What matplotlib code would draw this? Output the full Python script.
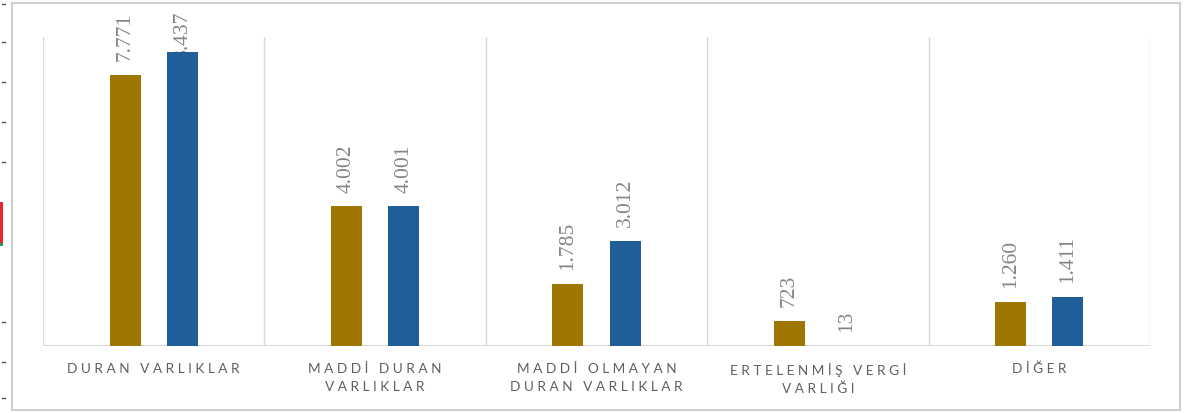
import matplotlib
matplotlib.use("Agg")
import matplotlib.pyplot as plt
from matplotlib.patches import Rectangle
from matplotlib.lines import Line2D
from matplotlib.transforms import blended_transform_factory
import numpy as np

categories = ["DURAN VARLIKLAR", "MADDİ DURAN\nVARLIKLAR", "MADDİ OLMAYAN\nDURAN VARLIKLAR",
              "ERTELENMİŞ VERGİ\nVARLIĞI", "DİĞER"]
series_a = [7.771, 4.002, 1.785, 0.723, 1.260]
series_b = [8.437, 4.001, 3.012, 0.013, 1.411]
labels_a = ["7.771", "4.002", "1.785", "723", "1.260"]
labels_b = ["8.437", "4.001", "3.012", "13", "1.411"]

color_a = "#9E7600"
color_b = "#1F5E99"
grid_color = "#D9D9D9"
text_color = "#858585"


def spaced(text):
    lines = []
    for line in text.split("\n"):
        words = [" ".join(list(w)) for w in line.split(" ")]
        lines.append("   ".join(words))
    return "\n".join(lines)


W, H = 1188, 413
fig = plt.figure(figsize=(W / 100, H / 100), dpi=100)
fig.patch.set_facecolor("white")

# outer frame
fig.add_artist(Rectangle((12 / W, 3 / H), (1180 - 12) / W, (410 - 3) / H,
                         transform=fig.transFigure, fill=False,
                         edgecolor="#D0D0D0", linewidth=1.5))
# strip on the left edge
fig.add_artist(Rectangle((0, 1 - 243 / H), 3 / W, 41 / H, transform=fig.transFigure,
                         facecolor="#E8262B", edgecolor="none"))
fig.add_artist(Rectangle((0, 1 - 246 / H), 3 / W, 3 / H, transform=fig.transFigure,
                         facecolor="#1E9E5A", edgecolor="none"))
for yy in [4, 42, 82, 122, 162, 322, 362, 398]:
    fig.add_artist(Line2D([2 / W, 5 / W], [1 - yy / H, 1 - yy / H],
                          transform=fig.transFigure, color="#555555", lw=1))

left, right = 43 / W, 1150 / W
bottom, top = 1 - 346 / H, 1 - 37 / H
ax = fig.add_axes([left, bottom, right - left, top - bottom])
ymax = 8.86
ax.set_xlim(-0.5, len(categories) - 0.5)
ax.set_ylim(0, ymax)

x = np.arange(len(categories))
bw = 0.14
off = 0.129
ax.bar(x - off, series_a, width=bw, color=color_a, zorder=3)
ax.bar(x + off, series_b, width=bw, color=color_b, zorder=3)

# labels sit 10 pt above their bar; one that would run off the top is pushed
# down against the top of the chart area and slides behind its bar
top_edge = blended_transform_factory(ax.transData, fig.transFigure)
for xs, vals, labs in ((x - off, series_a, labels_a), (x + off, series_b, labels_b)):
    for xi, v, lab in zip(xs, vals, labs):
        if v > 0.93 * ymax:
            ax.text(xi, 1 - 12 / H, lab, transform=top_edge, rotation=90,
                    ha="center", va="top", fontsize=15.5,
                    family="Liberation Serif", color=text_color, zorder=2,
                    clip_on=False)
        else:
            ax.annotate(lab, (xi, v), xytext=(0, 10),
                        textcoords="offset points", rotation=90,
                        ha="center", va="bottom", fontsize=15.5,
                        family="Liberation Serif", color=text_color,
                        annotation_clip=False, zorder=4)

# category dividers
for b in np.arange(-0.5, len(categories) + 0.5, 1.0):
    ax.axvline(b, color=grid_color, lw=1, zorder=1)
ax.axhline(0, color=grid_color, lw=1.5, zorder=2)

for s in ax.spines.values():
    s.set_visible(False)
ax.set_xticks(x)
ax.set_xticklabels([spaced(c) for c in categories], fontsize=9.8,
                   family="Lato", color="#5F5F5F", linespacing=1.6)
ax.tick_params(axis="x", length=0, pad=12)
ax.set_yticks([])

fig.savefig("out.png", dpi=100)
